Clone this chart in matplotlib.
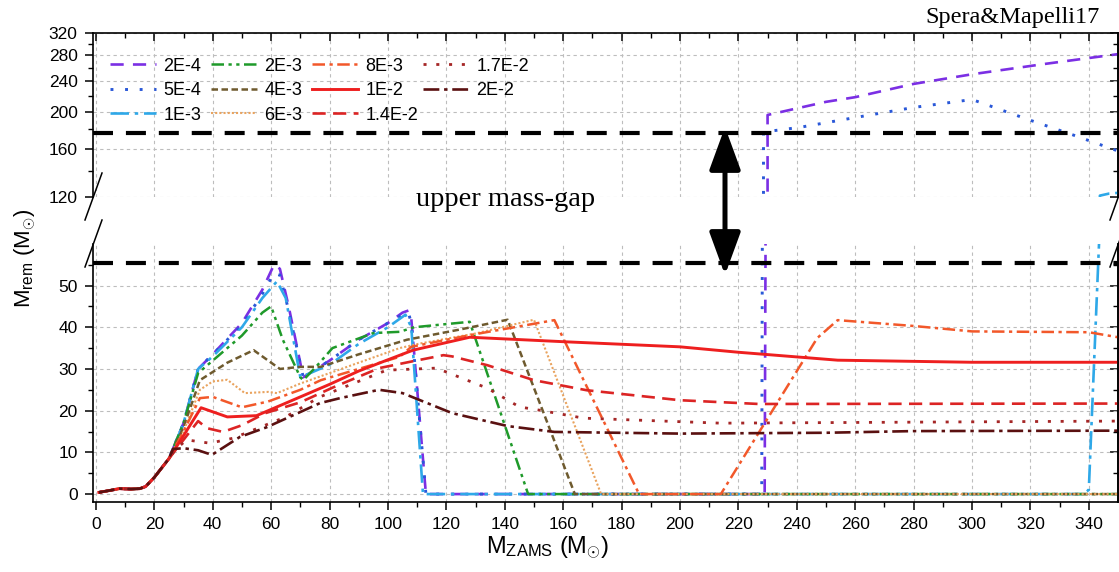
"""
Remnant mass vs ZAMS mass for several metallicities (Spera & Mapelli 2017),
drawn on a broken y axis: log scale above the gap, linear below.
"""

import matplotlib
matplotlib.use('Agg')
import matplotlib.pyplot as plt
from matplotlib.lines import Line2D
from matplotlib.patches import FancyArrowPatch
from matplotlib.ticker import NullFormatter

plt.rcParams['font.family'] = ['Liberation Sans', 'DejaVu Sans']
plt.rcParams['mathtext.fontset'] = 'custom'
plt.rcParams['mathtext.rm'] = 'Liberation Sans'
plt.rcParams['mathtext.it'] = 'Liberation Sans:italic'

# part shared by every track (M_ZAMS < 25)
m_start = [1, 5, 8, 12, 15, 17, 20, 25]
r_start = [0.4, 0.9, 1.3, 1.2, 1.3, 1.8, 4.0, 8.5]

# Z = 2E-4
m_2e4 = [30, 35, 40, 50, 57, 61, 63, 66, 71, 80, 90, 100, 105, 107, 108, 113, 229, 230, 250, 260, 280, 300, 325, 350]
r_2e4 = [17, 30, 33.5, 41, 49, 55, 54, 45, 28, 32, 37, 41, 43.5, 44, 42, 0, 0, 196, 212, 218, 236, 250, 266, 282]
# Z = 5E-4
m_5e4 = [30, 35, 40, 50, 57, 61, 63, 66, 71, 80, 90, 100, 105, 107, 108, 113, 228, 228.6, 241, 260, 280, 300, 319, 335, 350]
r_5e4 = [17, 30, 33.5, 40.5, 48, 53, 52.5, 44, 28, 32, 37, 41, 43, 43.5, 41, 0, 0, 177, 182, 193, 205, 215, 191, 173.5, 158]
# Z = 1E-3
m_1e3 = [30, 35, 40, 50, 57, 62, 65, 70, 80, 90, 100, 106, 108, 112, 338, 340, 343.5, 343.8, 347, 350]
r_1e3 = [17, 30, 33, 40, 47, 51, 47, 28, 31, 36, 40, 43, 40, 0, 0, 1, 60, 121, 122.5, 123]
# Z = 2E-3
m_2e3 = [30, 35, 40, 50, 57, 60, 64, 70, 71, 76, 81, 95, 104, 109, 128, 148, 350]
r_2e3 = [17, 29, 32, 38, 43.5, 45, 37, 28, 27.3, 31, 35, 38.6, 38.9, 40, 41.3, 0, 0]
# Z = 4E-3
m_4e3 = [30, 35.6, 45, 54, 63, 70, 77, 90, 106.5, 125, 141, 164, 350]
r_4e3 = [16, 27.3, 31.5, 34.5, 30, 30.5, 30.5, 33.5, 37, 39.5, 41.8, 0, 0]
# Z = 6E-3
m_6e3 = [30, 35.6, 40, 45, 51, 59, 62, 70, 80, 90, 104, 111, 130, 150, 173, 350]
r_6e3 = [15, 25, 27, 27.4, 24.2, 24.5, 24.2, 26.5, 29, 31.5, 35, 36.1, 38.5, 41.8, 0, 0]
# Z = 8E-3
m_8e3 = [30, 35.6, 40, 50, 59, 70, 77, 90, 104, 108, 128, 157, 186, 214, 247, 254, 280, 300, 340, 350]
r_8e3 = [15, 23, 23.3, 20.8, 22.2, 25, 27.3, 30, 32.9, 35.3, 38.1, 41.7, 0, 0, 37.4, 41.7, 40.3, 39, 38.8, 37.6]
# Z = 1E-2
m_1e2 = [30, 36, 45, 55, 60, 70, 80, 90, 100, 108.6, 128, 161, 200, 220, 254, 300, 350]
r_1e2 = [14, 20.7, 18.5, 18.8, 20.3, 23.3, 26.3, 29.5, 32.2, 34.5, 37.6, 36.5, 35.3, 34, 32.1, 31.6, 31.6]
# Z = 1.4E-2
m_14e2 = [30, 35, 38, 43.5, 50, 58, 70, 81, 97, 107.5, 119, 122, 134, 150, 168, 200, 227, 350]
r_14e2 = [13, 17.5, 15.8, 14.9, 16.5, 19.4, 22, 25.5, 30.2, 31.7, 33.3, 33, 30.9, 27.3, 24.9, 22.5, 21.6, 21.7]
# Z = 1.7E-2
m_17e2 = [27, 31, 39, 47, 65, 76.7, 99.5, 116.6, 134, 145, 152, 167, 214, 350]
r_17e2 = [10.5, 13, 12.2, 13.4, 18.5, 23.3, 29.7, 30.2, 25.4, 20.9, 20.1, 18.2, 17, 17.5]
# Z = 2E-2
m_2e2 = [26.4, 30, 35, 39.7, 49.3, 58.4, 76.7, 83.6, 97, 105, 122, 141, 157, 200, 250, 280, 350]
r_2e2 = [10.8, 11, 10.5, 9.4, 13.7, 16, 21.8, 23, 25, 24.2, 19.4, 16.3, 14.9, 14.5, 14.7, 15.1, 15.2]

labels = ['2E-4', '5E-4', '1E-3', '2E-3', '4E-3', '6E-3', '8E-3', '1E-2', '1.4E-2', '1.7E-2', '2E-2']
tracks = [(m_2e4, r_2e4), (m_5e4, r_5e4), (m_1e3, r_1e3), (m_2e3, r_2e3), (m_4e3, r_4e3),
          (m_6e3, r_6e3), (m_8e3, r_8e3), (m_1e2, r_1e2), (m_14e2, r_14e2),
          (m_17e2, r_17e2), (m_2e2, r_2e2)]
colors = ['#7b2fe4', '#2a58d8', '#2ea8e8', '#1f9a2a', '#6e5a2e', '#e9a35e',
          '#f2582a', '#ee1f1f', '#dc2424', '#a52626', '#5a1010']
styles = [(0, (5, 3.5)), (0, (1, 4)), (0, (7, 2.2, 1.3, 2.2)), (0, (5, 1.8, 1.3, 1.8, 1.3, 1.8)),
          (0, (2.6, 1.4)), (0, (1, 1)), (0, (5, 1.8, 1.3, 1.8)), '-', (0, (5, 2.8)),
          (0, (1.1, 3.5)), (0, (6, 1.8, 1.3, 1.8))]
widths = [1.9, 2.1, 1.9, 1.8, 1.8, 1.5, 1.8, 2.1, 1.9, 2.0, 1.9]

fig = plt.figure(figsize=(11.19, 5.72), dpi=100)
W, H = 1119.0, 572.0
x0, x1 = 93, 1118
ax_u = fig.add_axes([x0 / W, 1 - 197 / H, (x1 - x0) / W, (197 - 33) / H])
ax_l = fig.add_axes([x0 / W, 1 - 502 / H, (x1 - x0) / W, (502 - 243.8) / H])

handles = []
for (m, r), lab, c, ls, lw in zip(tracks, labels, colors, styles, widths):
    for ax in (ax_u, ax_l):
        ln, = ax.plot(m_start + m, r_start + r, color=c, ls=ls, lw=lw, label=lab)
    handles.append(ln)

xmaj = list(range(0, 341, 20))
xmin = list(range(10, 350, 20))
for ax in (ax_u, ax_l):
    ax.set_xlim(-1, 350)
    ax.set_xticks(xmaj)
    ax.set_xticks(xmin, minor=True)
    ax.grid(True, which='major', color='#bdbdbd', ls=(0, (3, 3)), lw=0.8)
    for s in ax.spines.values():
        s.set_linewidth(1.2)

# upper part: log scale above the gap
ax_u.set_yscale('log')
ax_u.set_ylim(120, 320)
u_major = [120, 160, 200, 240, 280, 320]
u_minor = [140, 180, 220, 260, 300]
ax_u.set_yticks(u_major)
ax_u.set_yticklabels([str(v) for v in u_major])
ax_u.set_yticks(u_minor, minor=True)
ax_u.yaxis.set_minor_formatter(NullFormatter())
ax_u.spines['bottom'].set_visible(False)
ax_u.tick_params(axis='x', which='both', bottom=False, top=True, labelbottom=False, direction='in')
ax_u.axhline(175.6, color='black', lw=3, ls=(0, (4.8, 3.1)), zorder=5)

# lower part: linear
ax_l.set_ylim(-1.9, 60)
ax_l.set_yticks([0, 10, 20, 30, 40, 50])
ax_l.set_yticks(list(range(5, 60, 10)), minor=True)
ax_l.spines['top'].set_visible(False)
ax_l.tick_params(axis='x', which='both', top=False, direction='out')
ax_l.axhline(55.4, color='black', lw=3, ls=(0, (4.8, 3.1)), zorder=5)

for ax in (ax_u, ax_l):
    ax.tick_params(axis='both', which='major', length=6, width=1.1, labelsize=12.5, pad=5)
    ax.tick_params(axis='both', which='minor', length=3.5, width=1.0)
    ax.tick_params(axis='y', which='both', direction='out')
    sec = ax.secondary_yaxis('right')
    sec.set_yticks(ax.get_yticks())
    sec.set_yticks(ax.get_yticks(minor=True), minor=True)
    sec.tick_params(axis='y', which='both', direction='in', labelright=False)
    sec.tick_params(axis='y', which='major', length=6, width=1.1)
    sec.tick_params(axis='y', which='minor', length=3.5, width=1.0)
    sec.yaxis.set_minor_formatter(NullFormatter())
    sec.spines['right'].set_linewidth(1.2)

leg_kw = dict(loc='upper left', frameon=False, fontsize=13, handlelength=2.55,
              handletextpad=0.4, columnspacing=0.55, labelspacing=0.42,
              borderpad=0, borderaxespad=0)
leg1 = ax_u.legend(handles[:9], labels[:9], ncol=3, bbox_to_anchor=(0.0166, 0.85), **leg_kw)
ax_u.add_artist(leg1)
ax_u.legend(handles[9:], labels[9:], ncol=1, bbox_to_anchor=(0.322, 0.85), **leg_kw)

# axis break marks
for xs in (85, 1110):
    for yb in (220, 267):
        fig.add_artist(Line2D([xs / W, (xs + 17) / W], [1 - yb / H, 1 - (yb - 47) / H],
                              color='black', lw=1.1, transform=fig.transFigure))

fig.add_artist(FancyArrowPatch((725 / W, 1 - 127 / H), (725 / W, 1 - 275 / H),
                               transform=fig.transFigure, color='black', lw=3.6,
                               arrowstyle='<|-|>,head_length=26,head_width=9.5',
                               shrinkA=0, shrinkB=0, mutation_scale=1))

fig.text(506 / W, 1 - 200 / H, 'upper mass-gap', family='Liberation Serif', fontsize=20.5,
         ha='center', va='center')
fig.text(1013 / W, 1 - 17 / H, 'Spera&Mapelli17', family='Liberation Serif', fontsize=17.5,
         ha='center', va='center')
fig.text(547 / W, 1 - 548 / H, r'M$_{\mathregular{ZAMS}}$ (M$_{\odot}$)', fontsize=17,
         ha='center', va='center')
fig.text(25 / W, 1 - 258 / H, r'M$_{\mathregular{rem}}$ (M$_{\odot}$)', fontsize=16,
         ha='center', va='center', rotation=90)

fig.savefig('out.png', dpi=100)
